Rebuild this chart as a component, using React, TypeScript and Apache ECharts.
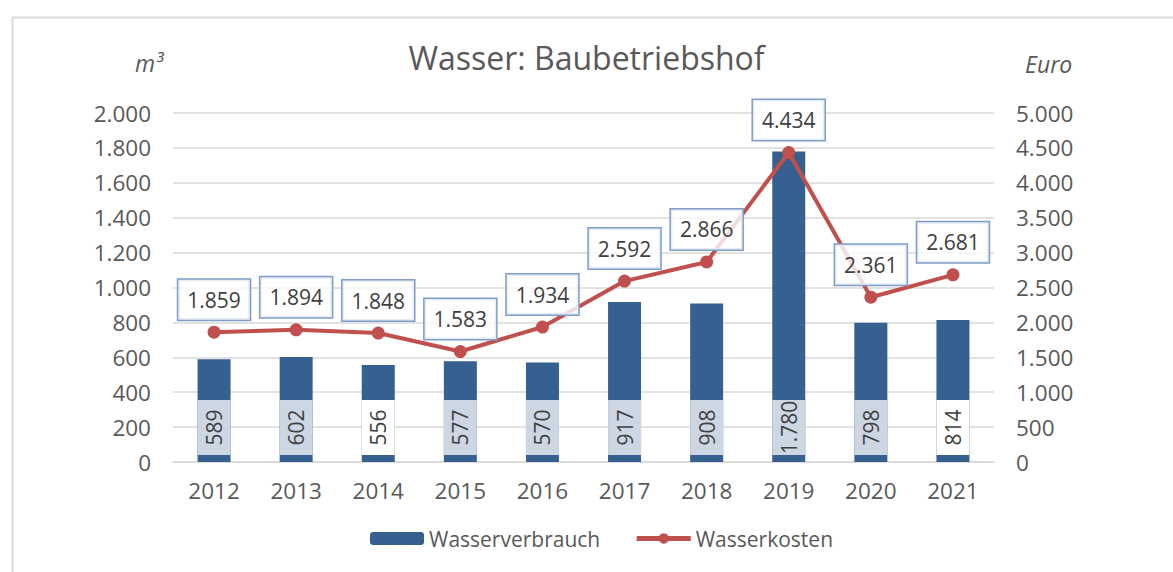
import React, { useEffect, useRef } from "react";
import * as echarts from "echarts";

const years = ["2012", "2013", "2014", "2015", "2016", "2017", "2018", "2019", "2020", "2021"];
const consumption = [589, 602, 556, 577, 570, 917, 908, 1780, 798, 814];
const costs = [1859, 1894, 1848, 1583, 1934, 2592, 2866, 4434, 2361, 2681];
const leftTicks = { min: 0, max: 2000, interval: 200 };
const rightTicks = { min: 0, max: 5000, interval: 500 };

const BAR_COLOR = "#35608f";
const LINE_COLOR = "#c0504d";
const TEXT_COLOR = "#595959";
const GRID_COLOR = "#d9d9d9";
const FONT = "'Open Sans', 'Noto Sans', sans-serif";
const BAR_LABEL_FILLS = ["#cdd7e4", "#cdd7e4", "#ffffff", "#cdd7e4", "#cdd7e4", "#cdd7e4", "#cdd7e4", "#cdd7e4", "#cdd7e4", "#ffffff"];

const fmt = (v: number) => String(v).replace(/\B(?=(\d{3})+(?!\d))/g, ".");

export default function App() {
  const ref = useRef<HTMLDivElement>(null);
  useEffect(() => {
    if (!ref.current) return;
    const chart = echarts.init(ref.current, undefined, { renderer: "svg" });
    chart.setOption({
      animation: false,
      backgroundColor: "#ffffff",
      textStyle: { fontFamily: FONT, color: TEXT_COLOR },
      title: {
        text: "Wasser: Baubetriebshof",
        left: "center",
        top: 36,
        textStyle: { fontFamily: FONT, fontSize: 32, fontWeight: "normal", color: TEXT_COLOR },
      },
      graphic: [
        {
          type: "rect",
          left: 10,
          top: 15,
          shape: { x: 0, y: 0, width: 1200, height: 600 },
          style: { fill: "none", stroke: GRID_COLOR, lineWidth: 2 },
          silent: true,
        },
        {
          type: "text",
          x: 163,
          y: 63,
          style: { text: "m³", fontFamily: FONT, fontSize: 23, fontStyle: "italic", fill: TEXT_COLOR, align: "right", verticalAlign: "middle" },
        },
        {
          type: "text",
          x: 1025,
          y: 64,
          style: { text: "Euro", fontFamily: FONT, fontSize: 23, fontStyle: "italic", fill: TEXT_COLOR, align: "left", verticalAlign: "middle" },
        },
      ],
      legend: {
        bottom: 18,
        left: 365,
        itemWidth: 54,
        itemHeight: 13,
        itemGap: 34,
        data: [
          { name: "Wasserverbrauch" },
          { name: "Wasserkosten", lineStyle: { width: 5 } },
        ],
        textStyle: { fontFamily: FONT, fontSize: 21, color: TEXT_COLOR },
      },
      grid: { left: 173, right: 179, top: 113, bottom: 110, containLabel: false },
      xAxis: {
        type: "category",
        data: years,
        axisLine: { lineStyle: { color: GRID_COLOR, width: 1.5 } },
        axisTick: { show: false },
        axisLabel: { fontFamily: FONT, fontSize: 22.5, color: TEXT_COLOR, margin: 17 },
      },
      yAxis: [
        {
          type: "value",
          min: leftTicks.min,
          max: leftTicks.max,
          interval: leftTicks.interval,
          axisLine: { show: false },
          axisTick: { show: false },
          splitLine: { lineStyle: { color: GRID_COLOR, width: 1.5 } },
          axisLabel: { fontFamily: FONT, fontSize: 22.5, color: TEXT_COLOR, margin: 22, formatter: (v: number) => fmt(v) },
        },
        {
          type: "value",
          min: rightTicks.min,
          max: rightTicks.max,
          interval: rightTicks.interval,
          axisLine: { show: false },
          axisTick: { show: false },
          splitLine: { show: false },
          axisLabel: { fontFamily: FONT, fontSize: 22.5, color: TEXT_COLOR, margin: 22, formatter: (v: number) => fmt(v) },
        },
      ],
      series: [
        {
          name: "Wasserverbrauch",
          type: "bar",
          data: consumption,
          yAxisIndex: 0,
          barWidth: 33,
          itemStyle: { color: BAR_COLOR },
          z: 2,
        },
        {
          name: "barLabels",
          type: "custom",
          data: consumption.map((v, i) => [i, v]),
          yAxisIndex: 0,
          z: 3,
          silent: true,
          renderItem: (params: any, api: any) => {
            const idx = api.value(0);
            const val = api.value(1);
            const p = api.coord([idx, 0]);
            const w = 33;
            const h = 55;
            return {
              type: "group",
              x: p[0],
              y: p[1] - 7,
              rotation: Math.PI / 2,
              children: [
                {
                  type: "rect",
                  shape: { x: 0, y: -w / 2, width: h, height: w },
                  style: { fill: BAR_LABEL_FILLS[idx] },
                },
                {
                  type: "text",
                  x: h / 2,
                  y: 0,
                  style: {
                    text: fmt(val),
                    fontFamily: FONT,
                    fontSize: 21,
                    fill: "#404040",
                    align: "center",
                    verticalAlign: "middle",
                  },
                },
              ],
            };
          },
        },
        {
          name: "Wasserkosten",
          type: "line",
          data: costs,
          yAxisIndex: 1,
          symbol: "circle",
          symbolSize: 13,
          lineStyle: { color: LINE_COLOR, width: 4 },
          itemStyle: { color: LINE_COLOR },
          z: 5,
          label: {
            show: true,
            position: "top",
            distance: 6,
            formatter: (p: any) => fmt(p.value),
            fontFamily: FONT,
            fontSize: 21,
            color: "#404040",
            backgroundColor: "rgba(255,255,255,0.8)",
            borderColor: "#7f9ec8",
            borderWidth: 1.5,
            padding: [8, 9, 8, 9],
            lineHeight: 24,
          },
        },
      ],
    });
    return () => chart.dispose();
  }, []);
  return <div ref={ref} style={{ position: "absolute", left: 0, top: 0, width: 1173, height: 572 }} />;
}
